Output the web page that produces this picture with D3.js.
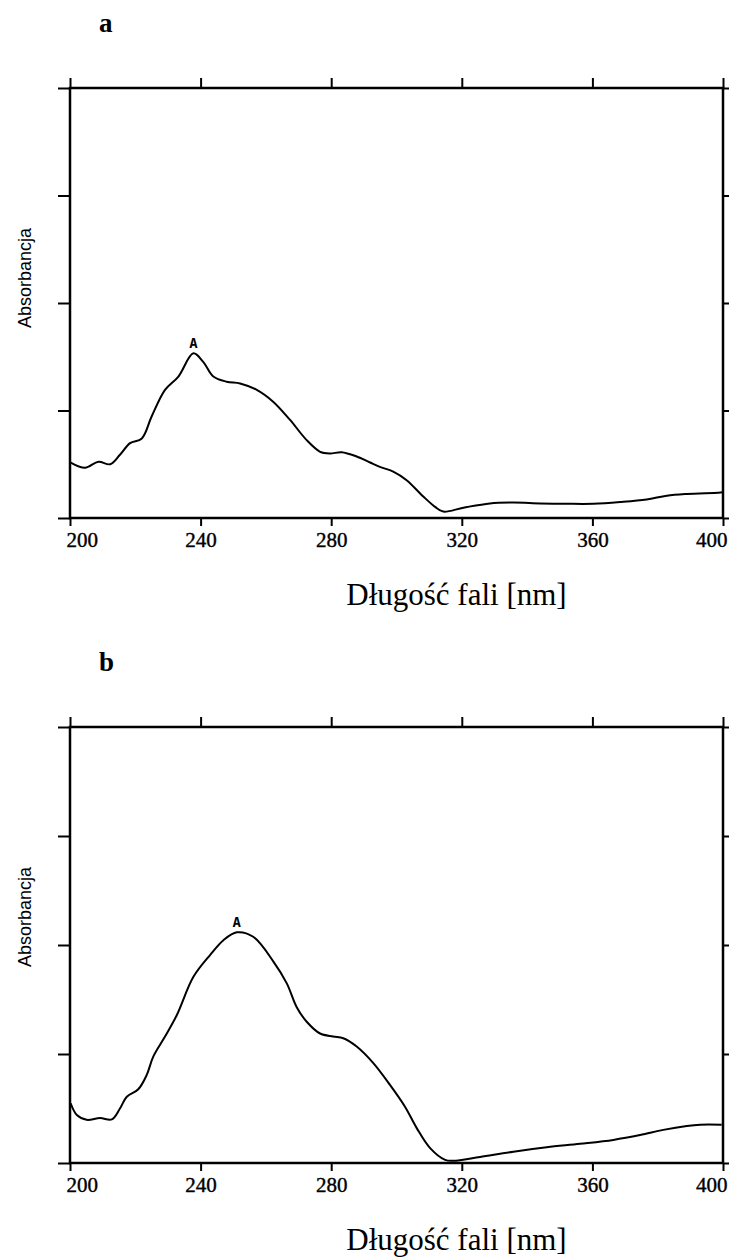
<!DOCTYPE html>
<html lang="pl">
<head>
	<meta charset="utf-8">
	<script src="https://d3js.org/d3.v7.min.js"></script>
	<style>
		body { margin: 0; background: #fff; }
	</style>
</head>
<body>
	<div id="chart"></div>

	<script>
		// widmo a: [długość fali nm, absorbancja (skala względna)]
		var nmA = [200.2, 204.6, 208.7, 212.3, 215.3, 218.4, 222.0, 225.0, 229.1, 233.2,
			237.8, 240.8, 243.9, 248.0, 252.1, 257.2, 262.3, 267.4, 272.5, 276.6,
			279.6, 283.2, 287.8, 291.9, 294.9, 299.0, 303.1, 308.2, 311.8, 314.3,
			320.5, 328.6, 335.8, 344.0, 352.1, 360.3, 368.5, 376.6, 382.8, 388.9,
			398.6, 400];
		var absA = [0.129, 0.117, 0.131, 0.125, 0.147, 0.174, 0.185, 0.236, 0.298, 0.329,
			0.383, 0.363, 0.329, 0.317, 0.313, 0.298, 0.270, 0.228, 0.181, 0.154,
			0.150, 0.153, 0.143, 0.129, 0.119, 0.108, 0.088, 0.050, 0.026, 0.015,
			0.024, 0.034, 0.036, 0.034, 0.033, 0.033, 0.037, 0.043, 0.052, 0.056,
			0.059, 0.060];

		// widmo b
		var nmB = [200.2, 202.1, 205.1, 209.2, 212.8, 215.3, 217.4, 220.9, 223.5, 225.5,
			229.1, 232.7, 237.8, 242.9, 247.0, 251.1, 256.1, 262.3, 266.4, 269.4,
			272.5, 276.6, 280.6, 283.7, 287.8, 292.9, 298.0, 302.6, 306.2, 310.3,
			314.9, 317.4, 325.6, 335.8, 346.0, 356.2, 366.4, 374.6, 381.7, 388.9,
			393.0, 399.6];
		var absB = [0.137, 0.110, 0.099, 0.103, 0.100, 0.125, 0.152, 0.169, 0.202, 0.244,
			0.290, 0.339, 0.427, 0.477, 0.511, 0.529, 0.519, 0.462, 0.412, 0.358,
			0.324, 0.297, 0.290, 0.286, 0.267, 0.229, 0.179, 0.129, 0.080, 0.034,
			0.007, 0.005, 0.014, 0.026, 0.036, 0.044, 0.053, 0.064, 0.076, 0.085,
			0.088, 0.088];

		var xTicks = [200, 240, 280, 320, 360, 400];
		var yTicks = [0, 0.25, 0.5, 0.75, 1];
		var panelLetters = ["a", "b"];
		var xTitle = "Długość fali [nm]";
		var yTitle = "Absorbancja";
		var peakMark = "A";

		var width = 731, height = 1258;

		var svg = d3.select("#chart").append("svg")
			.attr("width", width)
			.attr("height", height)
			.style("background", "#fff");

		var panels = [
			{ letter: panelLetters[0], nm: nmA, abs: absA, top: 88, bottom: 518 },
			{ letter: panelLetters[1], nm: nmB, abs: absB, top: 727, bottom: 1163 }
		];

		var left = 70, right = 723;

		var x = d3.scaleLinear().domain([200, 400]).range([left, right]);

		panels.forEach(function(p) {
			var y = d3.scaleLinear().domain([0, 1]).range([p.bottom, p.top]);
			var g = svg.append("g");

			var data = p.nm.map(function(d, i) { return { nm: d, v: p.abs[i] }; });

			// ramka wykresu
			g.append("rect")
				.attr("x", left)
				.attr("y", p.top)
				.attr("width", right - left)
				.attr("height", p.bottom - p.top)
				.style("fill", "none")
				.style("stroke", "#000")
				.style("stroke-width", 2.5);

			// osie - tylko kreski
			var bottomAxis = g.append("g")
				.attr("transform", "translate(0," + p.bottom + ")")
				.call(d3.axisBottom(x).tickValues(xTicks).tickSize(8).tickSizeOuter(0).tickFormat(d3.format("d")));
			var topAxis = g.append("g")
				.attr("transform", "translate(0," + p.top + ")")
				.call(d3.axisTop(x).tickValues(xTicks).tickSize(10).tickSizeOuter(0).tickFormat(""));
			var leftAxis = g.append("g")
				.attr("transform", "translate(" + left + ",0)")
				.call(d3.axisLeft(y).tickValues(yTicks).tickSize(12).tickSizeOuter(0).tickFormat(""));
			var rightAxis = g.append("g")
				.attr("transform", "translate(" + right + ",0)")
				.call(d3.axisRight(y).tickValues(yTicks).tickSize(6).tickSizeOuter(0).tickFormat(""));

			[bottomAxis, topAxis, leftAxis, rightAxis].forEach(function(a) {
				a.select(".domain").remove();
				a.selectAll(".tick line").style("stroke", "#000").style("stroke-width", 2);
			});

			// pierwsza i ostatnia etykieta dosunięte do krawędzi ramki
			bottomAxis.selectAll(".tick text")
				.attr("dy", "0.85em")
				.attr("text-anchor", function(d, i) {
					return i === 0 ? "start" : (i === xTicks.length - 1 ? "end" : "middle");
				})
				.attr("dx", function(d, i) {
					return i === 0 ? -4 : (i === xTicks.length - 1 ? 4 : 0);
				})
				.style("font-family", "'Liberation Serif', 'Times New Roman', serif")
				.style("font-size", "21px")
				.style("fill", "#000")
				.style("stroke", "#000")
				.style("stroke-width", 0.4);

			// krzywa
			var line = d3.line()
				.curve(d3.curveCatmullRom)
				.x(function(d) { return x(d.nm); })
				.y(function(d) { return y(d.v); });

			g.append("path")
				.datum(data)
				.attr("d", line)
				.style("fill", "none")
				.style("stroke", "#000")
				.style("stroke-width", 2);

			// znacznik piku
			var peak = data.reduce(function(a, b) { return b.v > a.v ? b : a; });
			g.append("text")
				.attr("x", x(peak.nm))
				.attr("y", y(peak.v) - 5)
				.attr("text-anchor", "middle")
				.style("font-family", "'DejaVu Sans Mono', monospace")
				.style("font-weight", "bold")
				.style("font-size", "14px")
				.text(peakMark);

			// opisy osi
			g.append("text")
				.attr("x", (left + right) / 2 + 60)
				.attr("y", p.bottom + 87)
				.attr("text-anchor", "middle")
				.style("font-family", "'Liberation Serif', 'Times New Roman', serif")
				.style("font-size", "31px")
				.text(xTitle);

			g.append("text")
				.attr("transform", "translate(31," + (p.top + 190) + ") rotate(-90)")
				.attr("text-anchor", "middle")
				.style("font-family", "'Liberation Sans', Arial, sans-serif")
				.style("font-size", "18px")
				.text(yTitle);

			g.append("text")
				.attr("x", 99)
				.attr("y", p.top - 56)
				.style("font-family", "'Liberation Serif', 'Times New Roman', serif")
				.style("font-weight", "bold")
				.style("font-size", "27px")
				.text(p.letter);
		});
	</script>
</body>
</html>
